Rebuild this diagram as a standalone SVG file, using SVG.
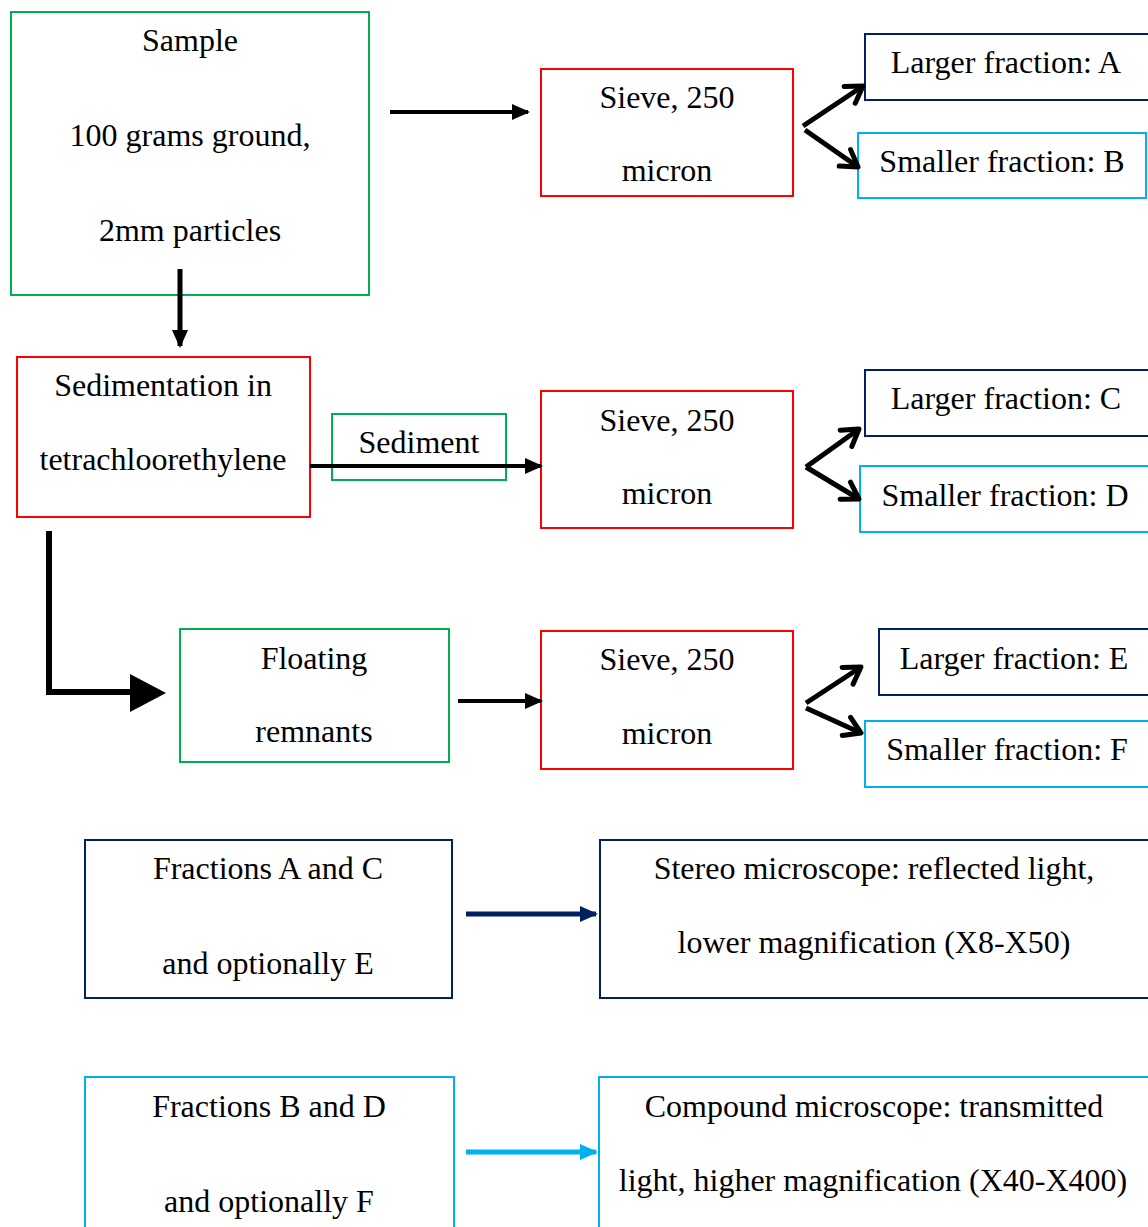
<svg xmlns="http://www.w3.org/2000/svg" width="1148" height="1227" viewBox="0 0 1148 1227">
<style>
text{font-family:"Liberation Serif","Times New Roman",serif;font-size:32px;fill:#000;text-anchor:middle}
.g{fill:#fff;stroke:#00B050;stroke-width:2}
.r{fill:#fff;stroke:#FF0000;stroke-width:2}
.n{fill:#fff;stroke:#002060;stroke-width:2}
.b{fill:#fff;stroke:#00B0F0;stroke-width:2}
.k{stroke:#000;stroke-width:4;fill:none}
.d{stroke:#000;stroke-width:5;fill:none;marker-end:url(#open)}
</style>
<defs>
<marker id="fk" markerUnits="userSpaceOnUse" viewBox="0 0 18 18" refX="16" refY="9" markerWidth="18" markerHeight="18" orient="auto"><path d="M0,1 L18,9 L0,17 z" fill="#000"/></marker>
<marker id="fn" markerUnits="userSpaceOnUse" viewBox="0 0 18 18" refX="16" refY="9" markerWidth="18" markerHeight="18" orient="auto"><path d="M0,1 L18,9 L0,17 z" fill="#002060"/></marker>
<marker id="fb" markerUnits="userSpaceOnUse" viewBox="0 0 18 18" refX="16" refY="9" markerWidth="18" markerHeight="18" orient="auto"><path d="M0,1 L18,9 L0,17 z" fill="#00B0F0"/></marker>
<marker id="open" markerUnits="userSpaceOnUse" viewBox="0 0 26 26" refX="22" refY="13" markerWidth="26" markerHeight="26" orient="auto"><path d="M6,3 L22,13 L6,23" fill="none" stroke="#000" stroke-width="5" stroke-linecap="round" stroke-linejoin="round"/></marker>
</defs>

<g id="sample"><rect class="g" x="11" y="12" width="358" height="283"/><text x="190" y="51">Sample</text><text x="190" y="146">100 grams ground,</text><text x="190" y="241">2mm particles</text></g>
<g id="sieve1"><rect class="r" x="541" y="69" width="252" height="127"/><text x="667" y="108">Sieve, 250</text><text x="667" y="181">micron</text></g>
<g id="fracA"><rect class="n" x="865" y="34" width="290" height="66"/><text x="1006" y="73">Larger fraction: A</text></g>
<g id="fracB"><rect class="b" x="858" y="133" width="288" height="65"/><text x="1002" y="172">Smaller fraction: B</text></g>

<g id="sedimentation"><rect class="r" x="17" y="357" width="293" height="160"/><text x="163" y="396">Sedimentation in</text><text x="163" y="470">tetrachloorethylene</text></g>
<g id="sediment"><rect class="g" x="332" y="414" width="174" height="66"/><text x="419" y="453">Sediment</text></g>
<g id="sieve2"><rect class="r" x="541" y="391" width="252" height="137"/><text x="667" y="431">Sieve, 250</text><text x="667" y="504">micron</text></g>
<g id="fracC"><rect class="n" x="865" y="370" width="290" height="66"/><text x="1006" y="409">Larger fraction: C</text></g>
<g id="fracD"><rect class="b" x="860" y="466" width="290" height="66"/><text x="1005" y="506">Smaller fraction: D</text></g>

<g id="floating"><rect class="g" x="180" y="629" width="269" height="133"/><text x="314" y="669">Floating</text><text x="314" y="742">remnants</text></g>
<g id="sieve3"><rect class="r" x="541" y="631" width="252" height="138"/><text x="667" y="670">Sieve, 250</text><text x="667" y="744">micron</text></g>
<g id="fracE"><rect class="n" x="879" y="629" width="276" height="66"/><text x="1014" y="669">Larger fraction: E</text></g>
<g id="fracF"><rect class="b" x="865" y="721" width="290" height="66"/><text x="1007" y="760">Smaller fraction: F</text></g>

<g id="fracAC"><rect class="n" x="85" y="840" width="367" height="158"/><text x="268" y="879">Fractions A and C</text><text x="268" y="974">and optionally E</text></g>
<g id="stereo"><rect class="n" x="600" y="840" width="555" height="158"/><text x="874" y="879">Stereo microscope: reflected light,</text><text x="874" y="953">lower magnification (X8-X50)</text></g>
<g id="fracBD"><rect class="b" x="85" y="1077" width="369" height="160"/><text x="269" y="1117">Fractions B and D</text><text x="269" y="1212">and optionally F</text></g>
<g id="compound"><rect class="b" x="599" y="1077" width="556" height="160"/><text x="874" y="1117">Compound microscope: transmitted</text><text x="873" y="1191">light, higher magnification (X40-X400)</text></g>

<g id="connectors">
<line class="k" x1="390" y1="112" x2="528" y2="112" marker-end="url(#fk)"/>
<line x1="180" y1="269" x2="180" y2="346" stroke="#000" stroke-width="5" marker-end="url(#fk)"/>
<line class="k" x1="310" y1="466" x2="541" y2="466" marker-end="url(#fk)"/>
<line class="k" x1="458" y1="701" x2="541" y2="701" marker-end="url(#fk)"/>
<polyline points="49,531 49,692 134,692" fill="none" stroke="#000" stroke-width="6"/>
<polygon points="130,674 166,693 130,712" fill="#000"/>
<line x1="466" y1="914" x2="596" y2="914" stroke="#002060" stroke-width="5" marker-end="url(#fn)"/>
<line x1="466" y1="1152" x2="596" y2="1152" stroke="#00B0F0" stroke-width="5" marker-end="url(#fb)"/>
<line class="d" x1="803" y1="126" x2="863" y2="86"/>
<line class="d" x1="805" y1="130" x2="858" y2="167"/>
<line class="d" x1="806" y1="467" x2="859" y2="429"/>
<line class="d" x1="806" y1="467" x2="859" y2="499"/>
<line class="d" x1="806" y1="703" x2="861" y2="667"/>
<line class="d" x1="806" y1="708" x2="861" y2="733"/>
</g>
</svg>
